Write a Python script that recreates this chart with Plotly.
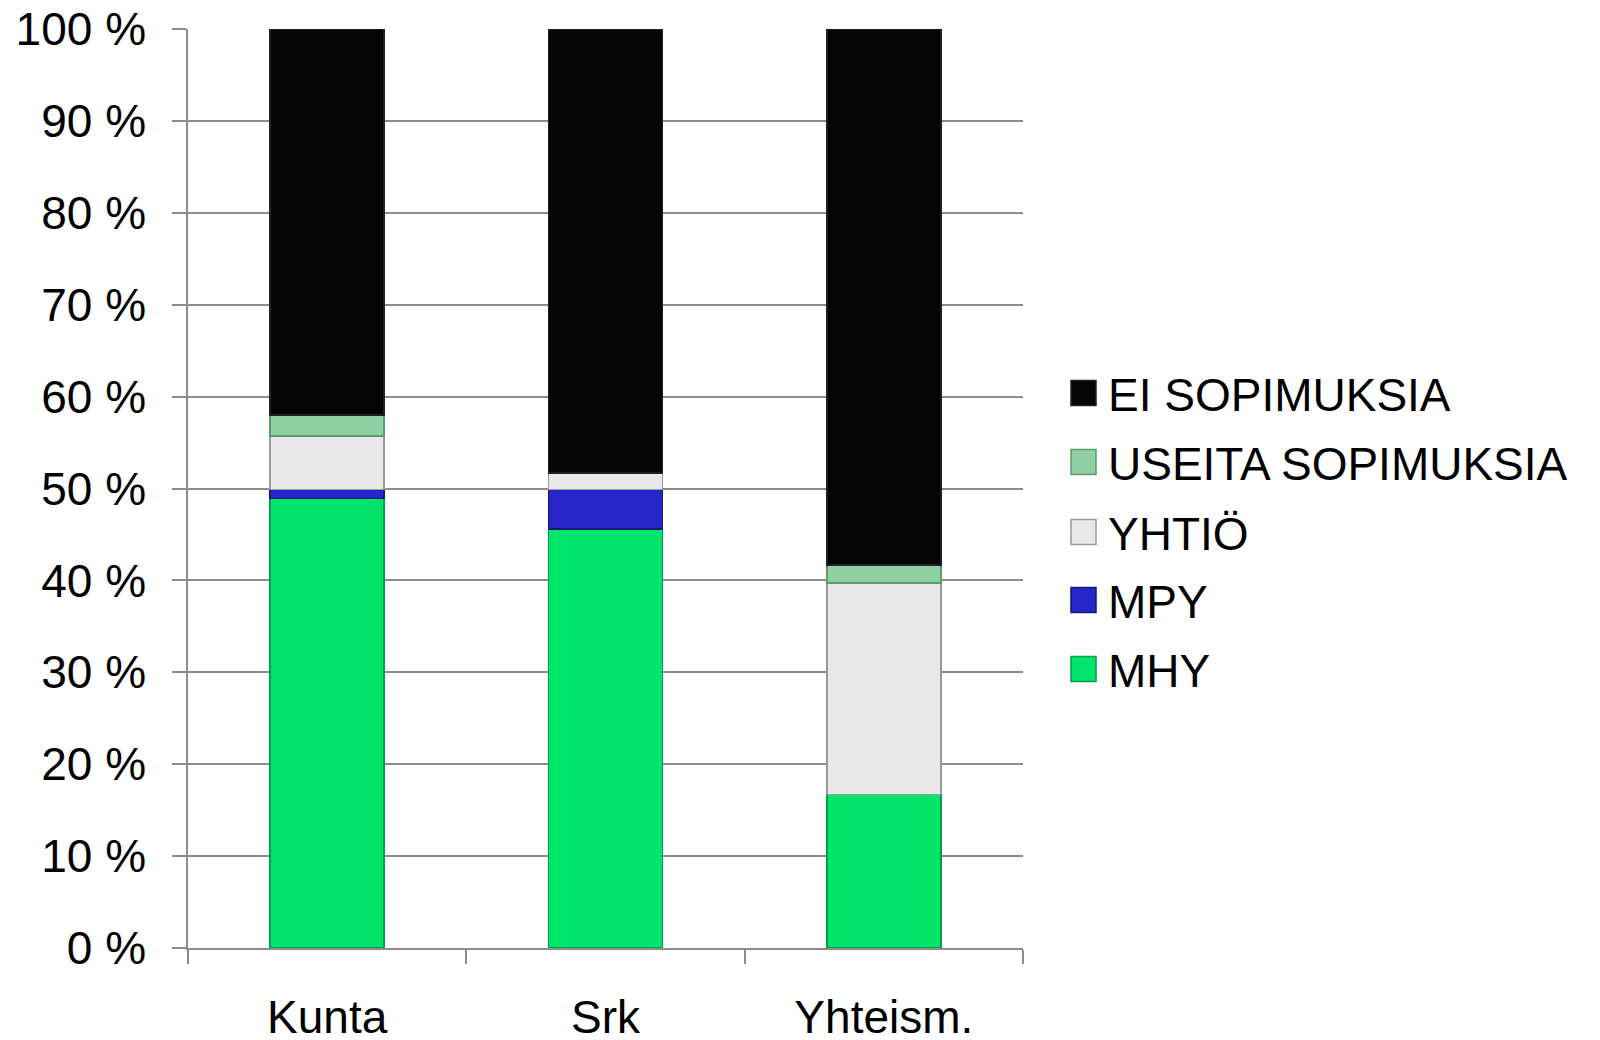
import plotly.graph_objects as go

categories = ["Kunta", "Srk", "Yhteism."]
mhy = [48.9, 45.6, 16.7]
mpy = [1.0, 4.3, 0.0]
yhtio = [5.8, 1.8, 23.0]
useita = [2.3, 0.0, 2.0]
ei = [42.0, 48.3, 58.3]

series_names = ["MHY", "MPY", "YHTIÖ", "USEITA SOPIMUKSIA", "EI SOPIMUKSIA"]
series_values = [mhy, mpy, yhtio, useita, ei]
fill_colors = ["#00E46A", "#2626C8", "#E8E8E8", "#8FCFA2", "#050505"]
line_colors = ["#00A050", "#15157A", "#9A9A9A", "#5E9A70", "#202020"]

y_ticks = list(range(0, 101, 10))
y_tick_text = [f"{v} %" for v in y_ticks]

# page has an 8px body margin; figure coordinates are offset by it
OFF = 8
W, H = 1600, 1040
L, R, T, B = 180, 585, 21, 100
pw, ph = W - L - R, H - T - B


def px_x(p):
    return (p - OFF - L) / pw


def px_y(p):
    return (H - B - (p - OFF)) / ph


font = "Liberation Sans, Arial, sans-serif"
fig = go.Figure()
for name, vals, fc, lc in zip(series_names, series_values, fill_colors, line_colors):
    fig.add_trace(go.Bar(
        x=categories, y=vals, name=name, showlegend=False,
        marker=dict(color=fc, line=dict(color=lc, width=1.5)),
    ))

# manual legend (top entry is last series)
shapes = []
annotations = []
row_y = [393, 462, 532, 600, 669]
for i, idx in enumerate(reversed(range(len(series_names)))):
    cy = row_y[i]
    shapes.append(dict(
        type="rect", xref="paper", yref="paper",
        x0=px_x(1071), x1=px_x(1096), y0=px_y(cy + 12.5), y1=px_y(cy - 12.5),
        fillcolor=fill_colors[idx], line=dict(color=line_colors[idx], width=1.5),
    ))
    annotations.append(dict(
        text=series_names[idx], xref="paper", yref="paper",
        x=px_x(1106), y=px_y(cy + 2), xanchor="left", yanchor="middle",
        showarrow=False, font=dict(family=font, size=46, color="black"),
    ))

fig.update_layout(
    barmode="stack",
    bargap=0.59,
    width=W, height=H,
    margin=dict(l=L, r=R, t=T, b=B),
    paper_bgcolor="white", plot_bgcolor="white",
    font=dict(family=font, size=46, color="black"),
    showlegend=False,
    shapes=shapes,
    annotations=annotations,
)
fig.update_yaxes(
    range=[0, 100], tickvals=y_ticks, ticktext=y_tick_text,
    showgrid=True, gridcolor="#8C8C8C", gridwidth=1.5,
    showline=True, linecolor="#8C8C8C", linewidth=1.5,
    ticks="outside", ticklen=14, tickcolor="#8C8C8C", tickwidth=1.5,
    ticklabelstandoff=17, automargin=False, ticklabeloverflow="allow",
    zeroline=False,
)
fig.update_xaxes(
    showline=True, linecolor="#8C8C8C", linewidth=1.5,
    ticks="outside", ticklen=14, tickcolor="#8C8C8C", tickwidth=1.5,
    tickson="boundaries", ticklabelstandoff=28, automargin=False,
    ticklabeloverflow="allow",
)
fig.write_html("out.html")
